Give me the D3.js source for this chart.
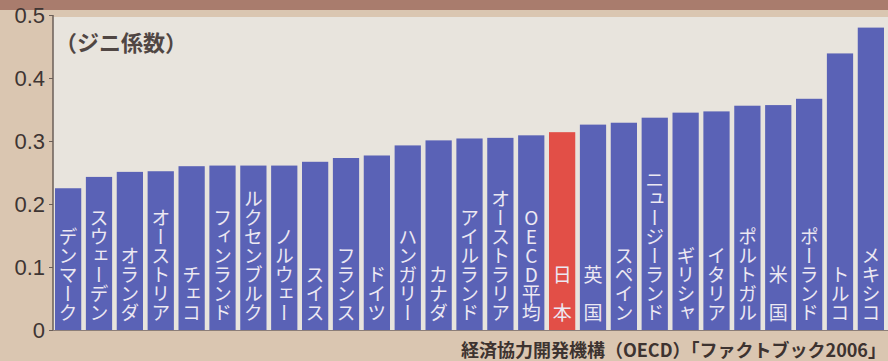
<!DOCTYPE html>
<html>
<head>
<meta charset="utf-8">
<script src="https://cdn.jsdelivr.net/npm/d3@7"></script>
<style>
  html, body { margin: 0; padding: 0; background: #dcc9b4; }
  svg { display: block; }
</style>
</head>
<body>
<svg id="chart" width="888" height="361"></svg>
<script>
const categories = ["デンマーク","スウェーデン","オランダ","オーストリア","チェコ","フィンランド","ルクセンブルク","ノルウェー","スイス","フランス","ドイツ","ハンガリー","カナダ","アイルランド","オーストラリア","OECD平均","日本","英国","スペイン","ニュージーランド","ギリシャ","イタリア","ポルトガル","米国","ポーランド","トルコ","メキシコ"];
const giniValues = [0.225,0.243,0.251,0.252,0.260,0.261,0.261,0.261,0.267,0.273,0.277,0.293,0.301,0.304,0.305,0.309,0.314,0.326,0.329,0.337,0.345,0.347,0.356,0.357,0.367,0.439,0.480];
const highlight = "日本";
const yTicks = [0, 0.1, 0.2, 0.3, 0.4, 0.5];
const yTickLabels = ["0", "0.1", "0.2", "0.3", "0.4", "0.5"];
const unitLabel = "（ジニ係数）";
const sourceLabel = "経済協力開発機構（OECD）「ファクトブック2006」";

const data = categories.map((c, i) => ({ name: c, value: giniValues[i] }));

const svg = d3.select("#chart");
const W = 888, H = 361;
const axisX = 53, baseY = 330, topY = 15;

// background decorations
svg.append("rect").attr("x", 0).attr("y", 0).attr("width", W).attr("height", H).attr("fill", "#dac6b1");
svg.append("rect").attr("x", 0).attr("y", 0).attr("width", W).attr("height", 10).attr("fill", "#a97c6d");
svg.append("rect").attr("x", axisX).attr("y", 17).attr("width", W - axisX).attr("height", baseY - 17).attr("fill", "#e8e4dd");

const x = d3.scaleBand().domain(categories).range([55, 884]).paddingInner(0.15).paddingOuter(0);
const y = d3.scaleLinear().domain([0, 0.5]).range([baseY, topY]);

// bars
svg.append("g").selectAll("rect").data(data).join("rect")
  .attr("x", d => x(d.name))
  .attr("y", d => y(d.value))
  .attr("width", x.bandwidth())
  .attr("height", d => y(0) - y(d.value))
  .attr("fill", d => d.name === highlight ? "#e24f47" : "#5a62b6");

// vertical labels
svg.append("g").selectAll("text").data(data).join("text")
  .attr("x", d => x(d.name) + x.bandwidth() / 2)
  .attr("y", 322)
  .attr("text-anchor", "end")
  .style("writing-mode", "vertical-rl")
  .style("text-orientation", "upright")
  .style("font-family", "'Noto Sans CJK JP', sans-serif")
  .style("font-size", "19px")
  .attr("fill", "#ece8f2")
  .text(d => d.name.length === 2 ? d.name[0] + "　" + d.name[1] : d.name);

// y axis
const yAxis = d3.axisLeft(y).tickValues(yTicks).tickFormat((d, i) => yTickLabels[i]).tickSize(4).tickPadding(4);
const gy = svg.append("g").attr("transform", `translate(${axisX},0)`).call(yAxis);
gy.select(".domain").attr("stroke", "#6b5f58").attr("stroke-width", 1.5).attr("d", `M0,${topY}V${baseY + 1}`);
gy.selectAll(".tick line").attr("stroke", "#6b5f58");
gy.selectAll(".tick text")
  .style("font-family", "'Liberation Sans', Arial, sans-serif")
  .style("font-size", "22px")
  .attr("fill", "#3e3533");

// baseline
svg.append("line").attr("x1", axisX).attr("x2", W).attr("y1", baseY + 0.5).attr("y2", baseY + 0.5)
  .attr("stroke", "#8c7e78").attr("stroke-width", 1);

// unit label
svg.append("text").attr("x", 55).attr("y", 51)
  .style("font-family", "'Noto Sans CJK JP', sans-serif")
  .style("font-size", "22px").style("font-weight", "bold")
  .attr("fill", "#504643")
  .text(unitLabel);

// source
svg.append("text").attr("x", 886).attr("y", 357).attr("text-anchor", "end")
  .style("font-family", "'Noto Sans CJK JP', sans-serif")
  .style("font-size", "18px").style("font-weight", "bold")
  .attr("fill", "#3d3330")
  .text(sourceLabel);
</script>
</body>
</html>
